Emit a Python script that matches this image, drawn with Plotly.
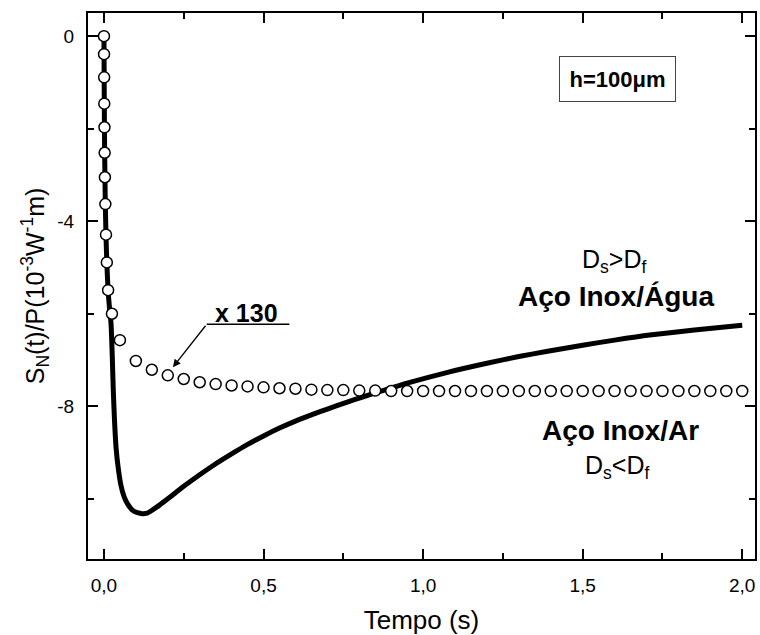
import plotly.graph_objects as go

# ---- data ----
# solid curve: Aço Inox/Água
t_line = [0, 0.001, 0.002, 0.004, 0.006, 0.009, 0.013, 0.017, 0.022, 0.026, 0.029, 0.033,
          0.038, 0.045, 0.053, 0.063, 0.075, 0.09, 0.105, 0.12, 0.135, 0.15, 0.175, 0.2,
          0.25, 0.3, 0.34, 0.4, 0.446, 0.5, 0.55, 0.6, 0.654, 0.7, 0.76, 0.81, 0.86, 0.95,
          1.08, 1.2, 1.3, 1.39, 1.5, 1.6, 1.71, 1.85, 2.0]
s_line = [0, -1.4, -2.4, -3.5, -4.2, -4.9, -5.5, -5.85, -6.2, -6.9, -7.6, -8.3,
          -8.9, -9.35, -9.7, -9.95, -10.12, -10.25, -10.3, -10.32, -10.31, -10.25, -10.13, -10.0,
          -9.73, -9.48, -9.29, -9.03, -8.84, -8.64, -8.47, -8.32, -8.175, -8.06, -7.915, -7.8, -7.69, -7.5,
          -7.26, -7.07, -6.925, -6.81, -6.68, -6.57, -6.46, -6.35, -6.25]

# open circles: Aço Inox/Ar (x 130)
t_circ = [0, 0.0003, 0.0006, 0.001, 0.0016, 0.0022, 0.003, 0.0044, 0.0064, 0.009, 0.013, 0.025,
          0.05, 0.10, 0.15, 0.20, 0.25, 0.30, 0.35, 0.40, 0.45, 0.50, 0.55, 0.60, 0.65, 0.70,
          0.75, 0.80, 0.85, 0.90, 0.95, 1.00, 1.05, 1.10, 1.15, 1.20, 1.25, 1.30, 1.35, 1.40,
          1.45, 1.50, 1.55, 1.60, 1.65, 1.70, 1.75, 1.80, 1.85, 1.90, 1.95, 2.00]
s_circ = [0, -0.39, -0.89, -1.46, -1.97, -2.52, -3.05, -3.63, -4.29, -4.89, -5.49, -6.0,
          -6.57, -7.02, -7.21, -7.33, -7.41, -7.48, -7.52, -7.55, -7.57, -7.59, -7.61, -7.62, -7.64, -7.65,
          -7.65, -7.66, -7.66, -7.67, -7.67, -7.67, -7.67, -7.67, -7.67, -7.67, -7.67, -7.67, -7.67, -7.67,
          -7.67, -7.67, -7.67, -7.67, -7.67, -7.67, -7.67, -7.67, -7.67, -7.67, -7.67, -7.67]

x_ticks = [0, 0.5, 1.0, 1.5, 2.0]
x_ticktext = ["0,0", "0,5", "1,0", "1,5", "2,0"]
x_minor = [0.25, 0.75, 1.25, 1.75]
y_ticks = [0, -4, -8]
y_ticktext = ["0", "-4", "-8"]
y_minor = [-2, -6, -10]

FONT = "Liberation Sans, Arial, sans-serif"

fig = go.Figure()
fig.add_trace(go.Scatter(x=t_line, y=s_line, mode="lines", line=dict(color="black", width=5, shape="spline", smoothing=0.6),
                         showlegend=False, hoverinfo="skip"))
fig.add_trace(go.Scatter(x=t_circ, y=s_circ, mode="markers",
                         marker=dict(symbol="circle", size=11, color="white", line=dict(color="black", width=1.5)),
                         showlegend=False))

axis_common = dict(showline=True, linewidth=2, linecolor="black", mirror="ticks", ticks="inside",
                   ticklen=10, tickwidth=1.5, tickcolor="black", showgrid=False, zeroline=False,
                   tickfont=dict(family=FONT, size=19, color="black"))

fig.update_xaxes(range=[-0.05, 2.04], tickmode="array", tickvals=x_ticks, ticktext=x_ticktext,
                 minor=dict(tickmode="array", tickvals=x_minor, ticks="inside", ticklen=6, tickwidth=1.5, tickcolor="black"),
                 title=dict(text="Tempo (s)", font=dict(family=FONT, size=26, color="black"), standoff=18),
                 ticklabelstandoff=8, **axis_common)
fig.update_yaxes(range=[-11.3, 0.5], tickmode="array", tickvals=y_ticks, ticktext=y_ticktext,
                 minor=dict(tickmode="array", tickvals=y_minor, ticks="inside", ticklen=6, tickwidth=1.5, tickcolor="black"),
                 title=dict(text="S<sub>N</sub>(t)/P(10<sup>-3</sup>W<sup>-1</sup>m)",
                            font=dict(family=FONT, size=25, color="black"), standoff=6),
                 ticklabelstandoff=8, **axis_common)

ann_font = dict(family=FONT, color="black")
fig.add_annotation(x=1.609, y=-0.934, text="<b>h=100μm</b>", showarrow=False,
                   font=dict(size=22, **ann_font), bordercolor="#444", borderwidth=1, borderpad=2,
                   width=111, height=40, bgcolor="white")
fig.add_annotation(x=1.597, y=-4.86, text="D<sub>s</sub>&gt;D<sub>f</sub>", showarrow=False,
                   font=dict(size=25, **ann_font))
fig.add_annotation(x=1.603, y=-5.63, text="<b>Aço Inox/Água</b>", showarrow=False,
                   font=dict(size=28, **ann_font))
fig.add_annotation(x=1.62, y=-8.53, text="<b>Aço Inox/Ar</b>", showarrow=False,
                   font=dict(size=28, **ann_font))
fig.add_annotation(x=1.609, y=-9.32, text="D<sub>s</sub>&lt;D<sub>f</sub>", showarrow=False,
                   font=dict(size=25, **ann_font))
fig.add_annotation(x=0.447, y=-5.976, text="<b>x 130</b>", showarrow=False,
                   font=dict(size=25, **ann_font))
# underline and arrow for "x 130"
fig.add_shape(type="line", x0=0.322, x1=0.581, y0=-6.227, y1=-6.227, line=dict(color="black", width=1.3))
fig.add_annotation(x=0.216, y=-7.156, ax=0.322, ay=-6.227, axref="x", ayref="y", xref="x", yref="y",
                   text="", showarrow=True, arrowhead=2, arrowsize=1.2, arrowwidth=1.3, arrowcolor="black")

fig.update_layout(width=760, height=635, margin=dict(l=88, r=3, t=13, b=74),
                  plot_bgcolor="white", paper_bgcolor="white", font=dict(family=FONT, color="black"))

fig.write_html("out.html")
